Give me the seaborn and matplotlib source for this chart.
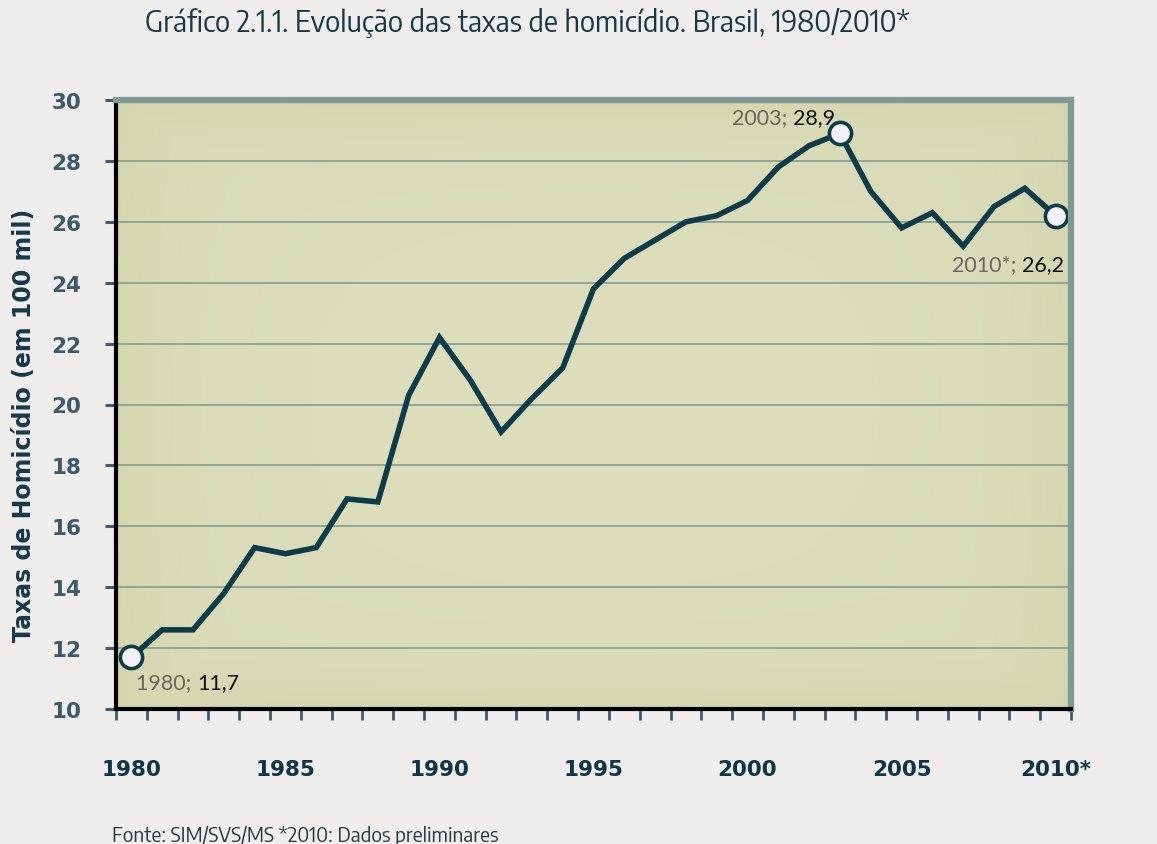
import numpy as np
import pandas as pd
import matplotlib
matplotlib.use("Agg")
import matplotlib.pyplot as plt
import seaborn as sns
from matplotlib import font_manager as fm
from matplotlib.offsetbox import TextArea, HPacker, AnnotationBbox

# ---- data ----
years = list(range(1980, 2011))
rates = [11.7, 12.6, 12.6, 13.8, 15.3, 15.1, 15.3, 16.9, 16.8, 20.3,
         22.2, 20.8, 19.1, 20.2, 21.2, 23.8, 24.8, 25.4, 26.0, 26.2,
         26.7, 27.8, 28.5, 28.9, 27.0, 25.8, 26.3, 25.2, 26.5, 27.1, 26.2]
year_labels = [str(y) for y in years]
year_labels[-1] = "2010*"
major_years = [1980, 1985, 1990, 1995, 2000, 2005, 2010]
y_ticks = [10, 12, 14, 16, 18, 20, 22, 24, 26, 28, 30]
title = "Gráfico 2.1.1. Evolução das taxas de homicídio. Brasil, 1980/2010*"
ylabel = "Taxas de Homicídio (em 100 mil)"
source = "Fonte: SIM/SVS/MS *2010: Dados preliminares"

df = pd.DataFrame({"idx": np.arange(len(years)), "rate": rates})

sns.set_theme(style="white")
plt.rcParams["font.family"] = ["DejaVu Sans"]

# pick a semi-condensed / condensed sans font file if installed
def pick_condensed():
    files = fm.findSystemFonts()
    bad = ("bold", "oblique", "italic", "light", "extra", "medium", "thin", "black")
    def norm(f):
        return f.lower().replace("_", "").replace("-", "").replace(" ", "")
    prefs = [("opensans", "semicondensed"), ("semicondensed",), ("narrow",), ("condensed",)]
    for keys in prefs:
        for f in sorted(files):
            n = norm(f)
            if all(k in n for k in keys) and all(b not in n for b in bad) and "sans" in n:
                return f
    return None

cond_file = pick_condensed()
if cond_file:
    title_fp = fm.FontProperties(fname=cond_file, size=21)
    src_fp = fm.FontProperties(fname=cond_file, size=14.8)
else:
    title_fp = fm.FontProperties(family="Roboto", size=17.5)
    src_fp = fm.FontProperties(family="Roboto", size=13.5)

BG = "#efeeec"
DARK = "#0e3b4a"
TICKC = "#3f5d68"
GRIDC = "#7a9891"
BORDER = "#7f9993"

fig = plt.figure(figsize=(11.57, 8.45), dpi=100, facecolor=BG)
ax = fig.add_axes([116/1157, 1-710/845, 955/1157, 609/845])
ax.set_facecolor("#d8dbb2")

# gradient background (lighter centre, slightly darker edges)
gx = np.linspace(-1, 1, 200)
gy = np.linspace(-1, 1, 200)
GX, GY = np.meshgrid(gx, gy)
d = np.clip(np.maximum(np.abs(GX) ** 8, np.abs(GY) ** 8) * 0.7 + (GX**2 + GY**2) * 0.15, 0, 1)
c0 = np.array([220, 222, 188]) / 255
c1 = np.array([211, 214, 173]) / 255
img = c0[None, None, :] * (1 - d[..., None]) + c1[None, None, :] * d[..., None]
ax.imshow(img, extent=(0, 1, 0, 1), transform=ax.transAxes, aspect="auto",
          zorder=0, interpolation="bicubic")

# grid
for yv in y_ticks[1:-1]:
    ax.axhline(yv, color=GRIDC, lw=1.1, zorder=1)

sns.lineplot(data=df, x="idx", y="rate", ax=ax, color=DARK, lw=4,
             zorder=3, solid_joinstyle="miter")

# highlighted points
hl = [0, int(np.argmax(rates)), len(rates) - 1]
ax.plot(df["idx"].iloc[hl], df["rate"].iloc[hl], "o", ms=16, mfc="#f3f3f7",
        mec=DARK, mew=2.6, zorder=4, ls="none")

ax.set_xlim(-0.5, len(years) - 0.5)
ax.set_ylim(y_ticks[0], y_ticks[-1])

# spines
for s in ["left", "bottom"]:
    ax.spines[s].set_color("black")
    ax.spines[s].set_linewidth(3)
for s in ["top", "right"]:
    ax.spines[s].set_color(BORDER)
    ax.spines[s].set_linewidth(4.5)
for s in ax.spines.values():
    s.set_zorder(5)

# y ticks
ax.set_yticks(y_ticks)
ax.set_yticklabels([str(v) for v in y_ticks])
ax.tick_params(axis="y", which="major", direction="out", length=8, width=2.2,
               color=TICKC, labelcolor="#3d5a69", labelsize=15.5, pad=17, left=True)
for t in ax.get_yticklabels():
    t.set_fontweight("bold")

# x ticks: major labels at data points, minor marks between
maj_idx = [years.index(y) for y in major_years]
ax.set_xticks(maj_idx)
ax.set_xticklabels([year_labels[i] for i in maj_idx])
ax.set_xticks(np.arange(-0.5, len(years)), minor=True)
ax.tick_params(axis="x", which="major", length=0, pad=36, labelsize=15.5,
               labelcolor="#0f3446", bottom=True)
ax.tick_params(axis="x", which="minor", direction="out", length=8, width=2,
               color=TICKC, bottom=True)
for t in ax.get_xticklabels():
    t.set_fontweight("bold")
ax.set_xlabel("")
ax.set_ylabel("")

fig.text(24/1157, 1-425/845, ylabel, rotation=90, ha="center", va="center",
         fontsize=17, fontweight="bold", color="#17384a")

# annotations (two-colour)
def fmt(v):
    return f"{v:.1f}".replace(".", ",")

def annot(i, lab, offset, align):
    a = TextArea(lab + "; ", textprops=dict(color="#6b675c", fontsize=15.5, family="Lato"))
    b = TextArea(fmt(rates[i]), textprops=dict(color="#111111", fontsize=15.5, family="Lato"))
    box = HPacker(children=[a, b], pad=0, sep=0, align="baseline")
    ab = AnnotationBbox(box, (i, rates[i]), xybox=offset, xycoords="data",
                        boxcoords="offset points", frameon=False,
                        box_alignment=align, pad=0, zorder=6)
    ax.add_artist(ab)

annot(hl[0], year_labels[hl[0]], (3.5, -18), (0, 0.5))
annot(hl[1], year_labels[hl[1]], (-3.5, 12), (1, 0.5))
annot(hl[2], year_labels[hl[2]], (6, -35), (1, 0.5))

fig.text(527/1157, 1-23/845, title, ha="center", va="center",
         fontproperties=title_fp, color="#173747")
fig.text(112/1157, 1-842/845, source, ha="left", va="baseline",
         fontproperties=src_fp, color="#2b3a40")

fig.savefig("out.png", dpi=100, facecolor=BG)
